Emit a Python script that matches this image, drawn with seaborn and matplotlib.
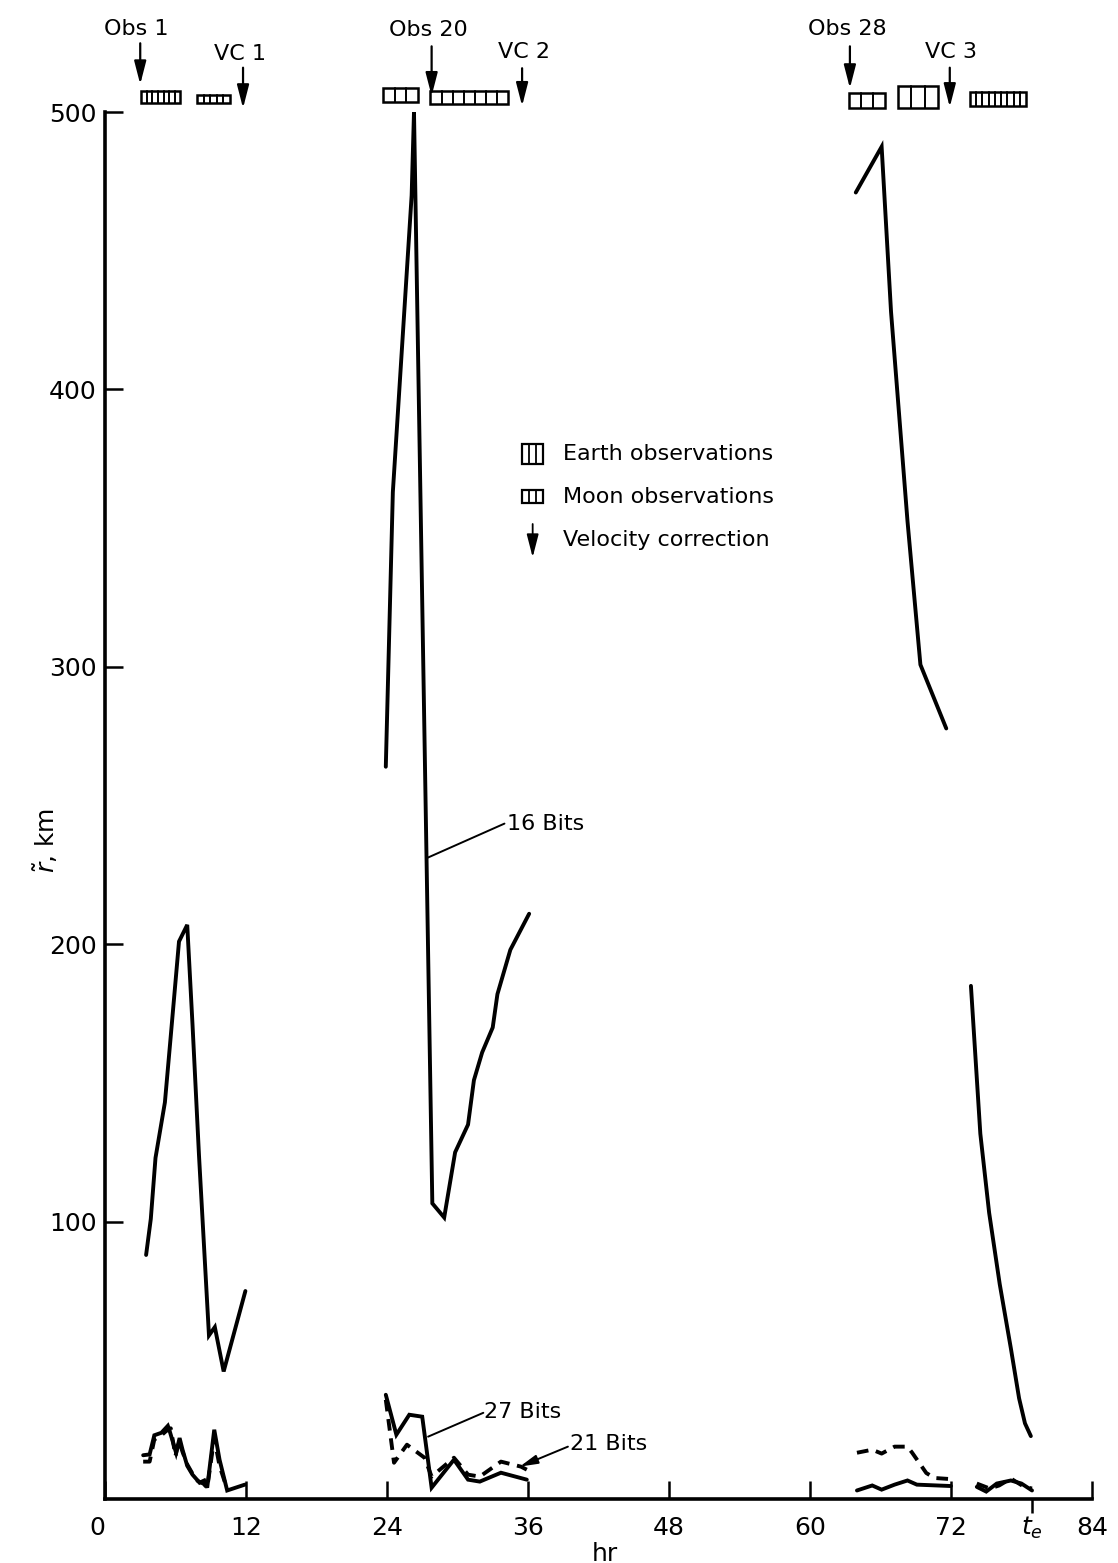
import numpy as np
import pandas as pd
import matplotlib
matplotlib.use("Agg")
import matplotlib.pyplot as plt
from matplotlib.patches import Rectangle
import seaborn as sns

# ---------------- data (hr, km) ----------------
# 16-bit error, four arcs (solid)
b16_a1_hr = [3.5, 3.9, 4.3, 5.1, 5.6, 6.3, 7.0, 7.45, 8.0, 8.85, 9.35, 10.1, 11.95]
b16_a1_km = [88, 101, 123, 143, 167, 201, 207, 171, 124, 59, 62, 46, 75]
b16_a2_hr = [23.9, 24.5, 26.1, 26.3, 27.86, 28.87, 29.8, 30.9, 31.4, 32.1, 33.0, 33.4, 34.5, 36.1]
b16_a2_km = [264, 363, 470, 500, 106.6, 101.5, 125, 135, 151, 161, 170, 182, 198, 211]
b16_a3_hr = [63.9, 66.1, 66.9, 68.3, 69.4, 71.6]
b16_a3_km = [471, 487.5, 428, 352.6, 300.8, 277.8]
b16_a4_hr = [73.7, 74.5, 75.25, 76.15, 77.1, 77.8, 78.3, 78.8]
b16_a4_km = [185, 131.7, 103.2, 77.5, 54.3, 36.3, 27.3, 22.7]

# 27-bit error (solid)
b27_a1_hr = [3.25, 3.8, 4.2, 4.8, 5.35, 5.5, 5.75, 6.05, 6.35, 6.6, 7.0, 7.45, 8.05, 8.45, 8.7, 9.3, 9.75, 10.4, 11.9]
b27_a1_km = [15.8, 16.1, 23, 23.9, 26.4, 24.6, 21, 16.7, 22, 17.8, 12, 8.8, 5.9, 6.7, 4.1, 25, 14.2, 3.1, 5.2]
b27_a2_hr = [23.9, 24.8, 25.9, 27.0, 27.8, 29.7, 30.9, 31.9, 33.7, 35.9]
b27_a2_km = [37.6, 23.2, 30.4, 29.7, 4.1, 14.2, 7.0, 6.3, 9.5, 7.0]
b27_a3_hr = [64.0, 65.3, 66.1, 67.2, 68.3, 69.1, 72.0]
b27_a3_km = [3.1, 4.9, 3.4, 5.2, 6.7, 5.2, 4.7]
b27_a4_hr = [74.2, 75.0, 75.9, 77.1, 78.0, 78.9]
b27_a4_km = [4.4, 2.7, 5.6, 6.7, 5.6, 3.1]

# 21-bit error (dashed)
b21_a1_hr = [3.25, 3.8, 4.2, 4.8, 5.2, 5.6, 6.0, 6.3, 6.6, 7.0, 7.4, 7.9, 8.4, 8.7, 9.3, 9.75, 10.4]
b21_a1_km = [13.5, 13.5, 21.5, 23, 24.5, 25.5, 15.5, 21, 17, 12.5, 9.5, 6.5, 5.5, 4.0, 22, 12, 3.5]
b21_a2_hr = [23.9, 24.6, 25.7, 27.2, 27.8, 29.7, 30.9, 31.9, 33.7, 35.4, 35.9]
b21_a2_km = [35.8, 13.1, 19.6, 14.9, 8.1, 14.9, 8.8, 8.1, 13.5, 11.7, 10.6]
b21_a3_hr = [64.0, 65.3, 66.1, 67.2, 68.3, 68.7, 69.9, 70.6, 72.0]
b21_a3_km = [16.7, 17.8, 16.4, 18.9, 18.9, 16.7, 9.4, 7.6, 7.2]
b21_a4_hr = [74.2, 75.3, 76.1, 77.1, 78.2, 78.9]
b21_a4_km = [5.6, 3.8, 4.9, 7.4, 4.5, 3.8]

# observation periods (top of chart)
obs_kind = ["Earth", "Moon", "Earth", "Moon", "Moon", "Earth", "Moon"]
obs_start_hr = [3.1, 7.85, 23.7, 27.7, 63.3, 67.5, 73.6]
obs_end_hr = [6.4, 10.6, 26.6, 34.3, 66.4, 70.9, 78.4]
obs_cells = [7, 5, 3, 7, 3, 3, 9]

# event markers
event_labels = ["Obs 1", "VC 1", "Obs 20", "VC 2", "Obs 28", "VC 3"]
event_hr = [3.0, 11.75, 27.8, 35.5, 63.4, 71.9]

x_ticks = [0, 12, 24, 36, 48, 60, 72, 84]
y_ticks = [100, 200, 300, 400, 500]
t_e = 78.9

# ---------------- styling / layout ----------------
box_bottom = [503.2, 503.2, 503.6, 502.9, 501.4, 501.4, 502.2]
box_top = [507.6, 506.2, 508.6, 507.5, 506.8, 509.4, 507.2]
arrow_tail = [524.8, 516.0, 523.7, 515.8, 523.7, 516.0]
arrow_tip = [510.0, 501.4, 505.8, 502.2, 508.6, 501.8]
label_xy = [(2.7, 530), (11.5, 521), (27.5, 529.7), (35.7, 521.5), (63.2, 530), (72.0, 521.6)]

sns.set_theme(style="white")
plt.rcParams["font.family"] = ["DejaVu Sans"]
plt.rcParams["mathtext.fontset"] = "dejavusans"
plt.rcParams["text.color"] = "black"
plt.rcParams["axes.labelcolor"] = "black"
plt.rcParams["xtick.color"] = "black"
plt.rcParams["ytick.color"] = "black"

fig = plt.figure(figsize=(11.18, 15.63), dpi=100)
ax = fig.add_axes([0.0939, 0.0409, 0.8828, 0.8874])

rows = []
def add(series, seg, xs, ys):
    for x, y in zip(xs, ys):
        rows.append({"series": series, "segment": f"{series}-{seg}", "hr": x, "km": y})

add("16 Bits", 1, b16_a1_hr, b16_a1_km)
add("16 Bits", 2, b16_a2_hr, b16_a2_km)
add("16 Bits", 3, b16_a3_hr, b16_a3_km)
add("16 Bits", 4, b16_a4_hr, b16_a4_km)
add("27 Bits", 1, b27_a1_hr, b27_a1_km)
add("27 Bits", 2, b27_a2_hr, b27_a2_km)
add("27 Bits", 3, b27_a3_hr, b27_a3_km)
add("27 Bits", 4, b27_a4_hr, b27_a4_km)
add("21 Bits", 1, b21_a1_hr, b21_a1_km)
add("21 Bits", 2, b21_a2_hr, b21_a2_km)
add("21 Bits", 3, b21_a3_hr, b21_a3_km)
add("21 Bits", 4, b21_a4_hr, b21_a4_km)
df = pd.DataFrame(rows)

LW = 2.8
for s in ["16 Bits", "27 Bits"]:
    sns.lineplot(data=df[df.series == s], x="hr", y="km", units="segment",
                 estimator=None, sort=False, color="black", lw=LW, ax=ax,
                 solid_joinstyle="miter", legend=False)
n_before = len(ax.lines)
sns.lineplot(data=df[df.series == "21 Bits"], x="hr", y="km", units="segment",
             estimator=None, sort=False, color="black", lw=LW, ax=ax, legend=False)
for ln in ax.lines[n_before:]:
    ln.set_linestyle((0, (3.0, 2.0)))
for ln in ax.lines:
    ln.set_clip_on(False)

ax.set_xlim(0, 84)
ax.set_ylim(0, 500)
sns.despine(ax=ax)
for sp in ["left", "bottom"]:
    ax.spines[sp].set_linewidth(2.6)
    ax.spines[sp].set_color("black")

ax.set_xticks(x_ticks)
ax.set_yticks(y_ticks)
ax.tick_params(axis="both", which="major", direction="in", length=13, width=1.8,
               colors="black", labelsize=18, bottom=True, left=True)
ax.tick_params(axis="x", which="major", pad=12)
ax.tick_params(axis="y", which="major", pad=6)
ax.set_xticks([t_e], labels=[r"$t_e$"], minor=True)
ax.tick_params(axis="x", which="minor", direction="out", length=10, width=1.8,
               labelsize=18, pad=1, colors="black", bottom=True)
ax.get_xticklabels()[0].set_horizontalalignment("right")

ax.set_xlabel("hr", fontsize=18)
ax.xaxis.set_label_coords(0.507, -0.031)
ax.set_ylabel(r"$\tilde{r}$, km", fontsize=18)
ax.yaxis.set_label_coords(-0.046, 0.475)

# observation boxes
for kind, x0, x1, n, b, t in zip(obs_kind, obs_start_hr, obs_end_hr, obs_cells, box_bottom, box_top):
    ax.add_patch(Rectangle((x0, b), x1 - x0, t - b, fill=False, ec="black",
                           lw=1.8, clip_on=False))
    for xv in np.linspace(x0, x1, n + 1)[1:-1]:
        ax.plot([xv, xv], [b, t], color="black", lw=1.4, clip_on=False)

# event arrows
for lab, xh, tail, tip, (lx, ly) in zip(event_labels, event_hr, arrow_tail, arrow_tip, label_xy):
    ax.annotate("", xy=(xh, tip), xytext=(xh, tail), annotation_clip=False,
                arrowprops=dict(arrowstyle="-|>,head_length=0.7,head_width=0.18",
                                lw=1.6, color="black", shrinkA=0, shrinkB=0,
                                mutation_scale=20))
    ax.text(lx, ly, lab, ha="center", va="center", fontsize=16, clip_on=False)

# legend (drawn manually)
ax.add_patch(Rectangle((35.5, 373.2), 1.8, 7.2, fill=False, ec="black", lw=1.6))
for xv in np.linspace(35.5, 37.3, 4)[1:-1]:
    ax.plot([xv, xv], [373.2, 380.4], color="black", lw=1.3)
ax.add_patch(Rectangle((35.5, 359.0), 1.8, 4.6, fill=False, ec="black", lw=1.6))
for xv in np.linspace(35.5, 37.3, 4)[1:-1]:
    ax.plot([xv, xv], [359.0, 363.6], color="black", lw=1.3)
ax.annotate("", xy=(36.4, 339.5), xytext=(36.4, 351.5),
            arrowprops=dict(arrowstyle="-|>,head_length=0.7,head_width=0.18",
                            lw=1.3, color="black", shrinkA=0, shrinkB=0,
                            mutation_scale=20))
ax.text(39.0, 376.8, "Earth observations", fontsize=16, va="center", ha="left")
ax.text(39.0, 361.3, "Moon observations", fontsize=16, va="center", ha="left")
ax.text(39.0, 345.9, "Velocity correction", fontsize=16, va="center", ha="left")

# curve labels
ax.plot([27.35, 34.0], [231, 243.5], color="black", lw=1.4)
ax.text(34.2, 243.5, "16 Bits", fontsize=16, va="center", ha="left")
ax.plot([27.5, 32.2], [22.5, 31.1], color="black", lw=1.4)
ax.text(32.3, 31.3, "27 Bits", fontsize=16, va="center", ha="left")
ax.annotate("", xy=(35.3, 11.7), xytext=(39.4, 18.9),
            arrowprops=dict(arrowstyle="-|>,head_length=0.6,head_width=0.15",
                            lw=1.4, color="black", shrinkA=0, shrinkB=0,
                            mutation_scale=18))
ax.text(39.6, 19.8, "21 Bits", fontsize=16, va="center", ha="left")

fig.savefig("out.png", dpi=100)
